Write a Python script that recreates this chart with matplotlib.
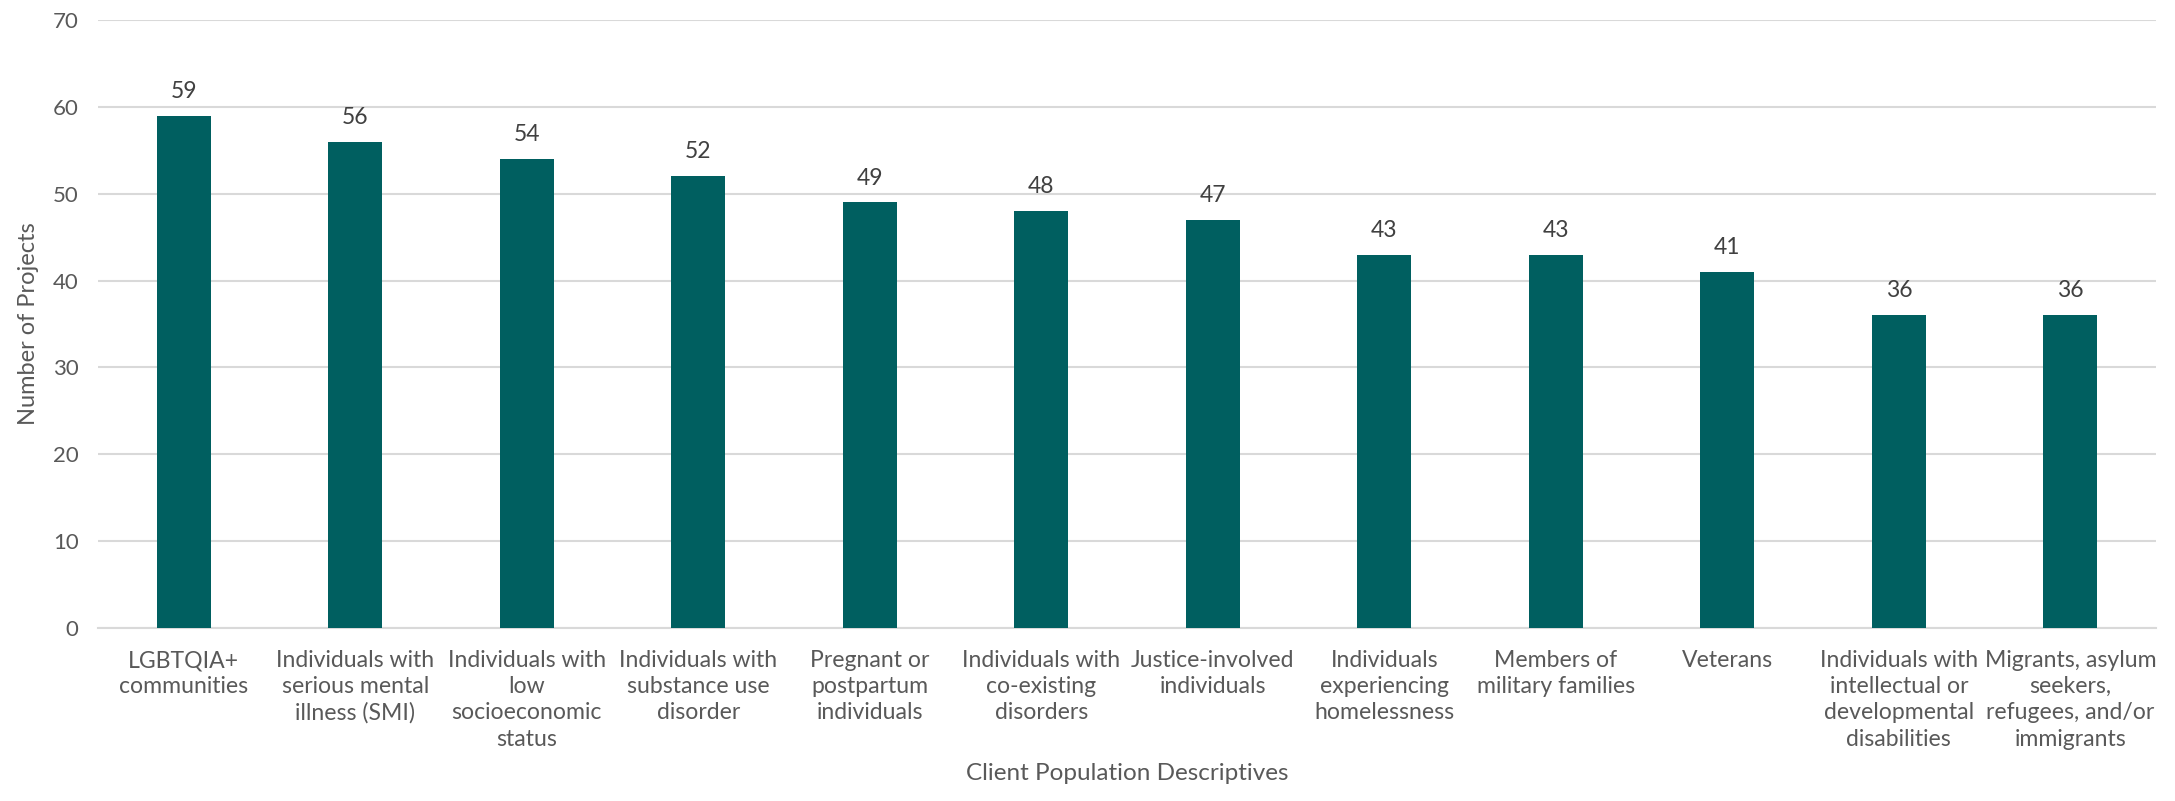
import matplotlib
matplotlib.use("Agg")
import matplotlib.pyplot as plt

categories = [
    "LGBTQIA+\ncommunities",
    "Individuals with\nserious mental\nillness (SMI)",
    "Individuals with\nlow\nsocioeconomic\nstatus",
    "Individuals with\nsubstance use\ndisorder",
    "Pregnant or\npostpartum\nindividuals",
    "Individuals with\nco-existing\ndisorders",
    "Justice-involved\nindividuals",
    "Individuals\nexperiencing\nhomelessness",
    "Members of\nmilitary families",
    "Veterans",
    "Individuals with\nintellectual or\ndevelopmental\ndisabilities",
    "Migrants, asylum\nseekers,\nrefugees, and/or\nimmigrants",
]
projects = [59, 56, 54, 52, 49, 48, 47, 43, 43, 41, 36, 36]
yticks = [0, 10, 20, 30, 40, 50, 60, 70]

plt.rcParams['font.family'] = ['Lato', 'DejaVu Sans']
text_color = '#595959'

fig = plt.figure(figsize=(21.75, 8.01), dpi=100)
ax = fig.add_axes([0.0451, 0.216, 0.9462, 0.759])

x = list(range(len(categories)))
bars = ax.bar(x, projects, width=0.315, color='#005F60', zorder=3)
for b, v in zip(bars, projects):
    ax.annotate(str(v), (b.get_x() + b.get_width() / 2, v), xytext=(0, 10),
                textcoords='offset points', ha='center', va='bottom',
                fontsize=16.5, color='#404040')

ax.set_xlim(-0.5, len(categories) - 0.5)
ax.set_ylim(0, 70)
ax.set_yticks(yticks)
ax.set_xticks(x)
ax.set_xticklabels(categories, fontsize=16.6, color=text_color, linespacing=1.3)
ax.tick_params(axis='y', length=0, pad=14, labelsize=16, labelcolor=text_color)
ax.tick_params(axis='x', length=0, pad=16)
ax.grid(axis='y', color='#d9d9d9', linewidth=1.5, zorder=0)
for s in ['top', 'right', 'left']:
    ax.spines[s].set_visible(False)
ax.spines['bottom'].set_color('#d9d9d9')
ax.spines['bottom'].set_linewidth(1.5)

ax.set_ylabel('Number of Projects', fontsize=17, color=text_color, labelpad=10)
fig.text(0.5 * (0.0451 + 0.9913), 1 - 780 / 801, 'Client Population Descriptives',
         ha='center', va='baseline', fontsize=17.5, color=text_color)

fig.savefig('out.png', dpi=100)
